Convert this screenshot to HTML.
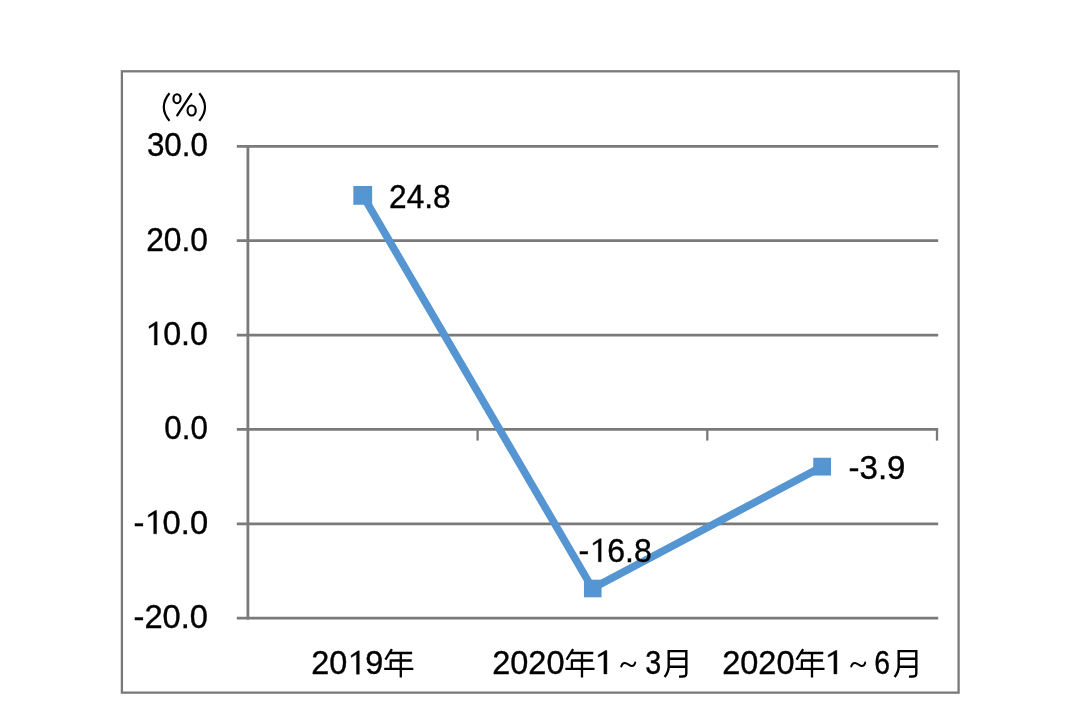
<!DOCTYPE html>
<html><head><meta charset="utf-8"><style>
html,body{margin:0;padding:0;background:#fff;width:1080px;height:705px;overflow:hidden}
svg{display:block;will-change:transform}
text{font-family:"Liberation Sans",sans-serif;font-size:35.0px;fill:#000}
</style></head><body>
<svg width="1080" height="705" viewBox="0 0 1080 705">
<rect width="1080" height="705" fill="#fff"/>
<rect x="121.9" y="71.3" width="836.7" height="621.35" fill="none" stroke="#7a7a7a" stroke-width="2.3"/>
<line x1="236.8" y1="146.30" x2="938.2" y2="146.30" stroke="#7a7a7a" stroke-width="2.7"/>
<line x1="236.8" y1="240.68" x2="938.2" y2="240.68" stroke="#7a7a7a" stroke-width="2.7"/>
<line x1="236.8" y1="335.06" x2="938.2" y2="335.06" stroke="#7a7a7a" stroke-width="2.7"/>
<line x1="236.8" y1="429.44" x2="938.2" y2="429.44" stroke="#7a7a7a" stroke-width="2.7"/>
<line x1="236.8" y1="523.82" x2="938.2" y2="523.82" stroke="#7a7a7a" stroke-width="2.7"/>
<line x1="236.8" y1="618.20" x2="938.2" y2="618.20" stroke="#7a7a7a" stroke-width="2.7"/>
<line x1="247.9" y1="145.00" x2="247.9" y2="619.50" stroke="#7a7a7a" stroke-width="2.8"/>
<line x1="477.60" y1="429.44" x2="477.60" y2="440.6" stroke="#7a7a7a" stroke-width="2.3"/>
<line x1="707.30" y1="429.44" x2="707.30" y2="440.6" stroke="#7a7a7a" stroke-width="2.3"/>
<line x1="937.00" y1="429.44" x2="937.00" y2="440.6" stroke="#7a7a7a" stroke-width="2.3"/>
<polyline points="362.75,195.38 592.45,588.30 822.15,466.65" fill="none" stroke="#5595d1" stroke-width="7.6" stroke-linejoin="round"/>
<rect x="353.35" y="185.98" width="18.8" height="18.8" fill="#5595d1"/>
<rect x="583.95" y="579.70" width="17.6" height="17.6" fill="#5595d1"/>
<rect x="813.25" y="457.75" width="17.8" height="17.8" fill="#5595d1"/>
<path d="M169.5,93.3 C165.1,98.5 163.8,102.8 163.8,107.1 C163.8,111.4 165.1,115.7 169.5,120.9 M199.3,93.3 C203.7,98.5 205.0,102.8 205.0,107.1 C205.0,111.4 203.7,115.7 199.3,120.9" fill="none" stroke="#000" stroke-width="2.2"/>
<ellipse cx="177.0" cy="98.7" rx="3.55" ry="4.5" fill="none" stroke="#000" stroke-width="2.15"/>
<ellipse cx="191.65" cy="110.5" rx="4.1" ry="5.0" fill="none" stroke="#000" stroke-width="2.15"/>
<path d="M191.3,93.8 L177.2,115.3" fill="none" stroke="#000" stroke-width="2.2" stroke-linecap="round"/>
<g transform="translate(146.90,156.28) scale(0.8973,0.9645)"><text x="0.000" y="0" stroke="#000" stroke-width="0.4">30.0</text></g>
<g transform="translate(146.20,250.66) scale(0.9078,0.9645)"><text x="0.000" y="0" stroke="#000" stroke-width="0.4">20.0</text></g>
<g transform="translate(145.19,345.04) scale(0.9229,0.9645)"><path transform="translate(0.000,0) scale(0.017090,-0.017090)" d="M760,0 L760,1409 L680,1409 L260,1150 Q235,1130 240,1080 L250,1010 L580,1200 L580,0 Z" stroke="#000" stroke-width="23.4"/><text x="19.465" y="0" stroke="#000" stroke-width="0.4">0.0</text></g>
<g transform="translate(164.37,439.42) scale(0.8972,0.9645)"><text x="0.000" y="0" stroke="#000" stroke-width="0.4">0.0</text></g>
<g transform="translate(133.55,533.80) scale(0.9343,0.9645)"><text x="0.000" y="0" stroke="#000" stroke-width="0.4">-</text><path transform="translate(11.655,0) scale(0.017090,-0.017090)" d="M760,0 L760,1409 L680,1409 L260,1150 Q235,1130 240,1080 L250,1010 L580,1200 L580,0 Z" stroke="#000" stroke-width="23.4"/><text x="31.121" y="0" stroke="#000" stroke-width="0.4">0.0</text></g>
<g transform="translate(133.55,628.18) scale(0.9343,0.9645)"><text x="0.000" y="0" stroke="#000" stroke-width="0.4">-20.0</text></g>
<g transform="translate(389.11,207.67) scale(0.9038,0.9564)"><text x="0.000" y="0" stroke="#000" stroke-width="0.4">24.8</text></g>
<g transform="translate(578.57,561.77) scale(0.9179,0.9604)"><text x="0.000" y="0" stroke="#000" stroke-width="0.4">-</text><path transform="translate(11.655,0) scale(0.017090,-0.017090)" d="M760,0 L760,1409 L680,1409 L260,1150 Q235,1130 240,1080 L250,1010 L580,1200 L580,0 Z" stroke="#000" stroke-width="23.4"/><text x="31.121" y="0" stroke="#000" stroke-width="0.4">6.8</text></g>
<g transform="translate(848.53,478.57) scale(0.9440,0.9645)"><text x="0.000" y="0" stroke="#000" stroke-width="0.4">-3.9</text></g>
<g transform="translate(311.27,674.17) scale(0.9255,0.9685)"><text x="0.000" y="0" stroke="#000" stroke-width="0.4">20</text><path transform="translate(38.931,0) scale(0.017090,-0.017090)" d="M760,0 L760,1409 L680,1409 L260,1150 Q235,1130 240,1080 L250,1010 L580,1200 L580,0 Z" stroke="#000" stroke-width="23.4"/><text x="58.396" y="0" stroke="#000" stroke-width="0.4">9</text></g>
<g transform="translate(492.27,674.17) scale(0.9273,0.9685)"><text x="0.000" y="0" stroke="#000" stroke-width="0.4">2020</text></g>
<g transform="translate(594.16,673.90) scale(0.9808,0.9718)"><path transform="translate(0.000,0) scale(0.017090,-0.017090)" d="M760,0 L760,1409 L680,1409 L260,1150 Q235,1130 240,1080 L250,1010 L580,1200 L580,0 Z" stroke="#000" stroke-width="23.4"/></g>
<g transform="translate(645.21,674.17) scale(0.8196,0.9685)"><text x="0.000" y="0" stroke="#000" stroke-width="0.4">3</text></g>
<g transform="translate(722.27,674.17) scale(0.9273,0.9685)"><text x="0.000" y="0" stroke="#000" stroke-width="0.4">2020</text></g>
<g transform="translate(824.16,673.90) scale(0.9808,0.9718)"><path transform="translate(0.000,0) scale(0.017090,-0.017090)" d="M760,0 L760,1409 L680,1409 L260,1150 Q235,1130 240,1080 L250,1010 L580,1200 L580,0 Z" stroke="#000" stroke-width="23.4"/></g>
<g transform="translate(874.36,674.17) scale(0.8112,0.9685)"><text x="0.000" y="0" stroke="#000" stroke-width="0.4">6</text></g>
<path d="M391.9,649.1 L385.4,659.7 M389.7,653.0 H412.1 M389.7,660.5 H411.7 M390.7,660.5 V668.9 M384.2,668.9 H413.3 M400.8,653.0 V677.6" fill="none" stroke="#000" stroke-width="2.3"/>
<path d="M573.0999999999999,649.1 L566.5999999999999,659.7 M570.9,653.0 H593.3 M570.9,660.5 H592.9 M571.9,660.5 V668.9 M565.4,668.9 H594.5 M582.0,653.0 V677.6" fill="none" stroke="#000" stroke-width="2.3"/>
<path d="M803.0999999999999,649.1 L796.5999999999999,659.7 M800.9,653.0 H823.3 M800.9,660.5 H822.9 M801.9,660.5 V668.9 M795.4,668.9 H824.5 M812.0,653.0 V677.6" fill="none" stroke="#000" stroke-width="2.3"/>
<path d="M668.7,650.1 V666.5 C668.7,671 667,674 664.6,677.0 M667.7,651.1 H687.5 M686.3,650.1 V673.5 C686.3,676.2 685,676.6 679,676.6 M668.7,658.8 H686.3 M668.7,666.7 H686.3" fill="none" stroke="#000" stroke-width="2.4"/>
<path d="M898.7,650.1 V666.5 C898.7,671 897.0,674 894.6,677.0 M897.7,651.1 H917.5 M916.3,650.1 V673.5 C916.3,676.2 915.0,676.6 909.0,676.6 M898.7,658.8 H916.3 M898.7,666.7 H916.3" fill="none" stroke="#000" stroke-width="2.4"/>
<path d="M621.2,666.5 C622,663.5 623.5,662.8 625,662.9 C627,663 629.5,665.9 631.5,666 C633.5,666.1 634.8,664.5 635.2,662.6" fill="none" stroke="#000" stroke-width="2.0" stroke-linecap="round"/>
<path d="M851.2,666.5 C852.0,663.5 853.5,662.8 855.0,662.9 C857.0,663 859.5,665.9 861.5,666 C863.5,666.1 864.8,664.5 865.2,662.6" fill="none" stroke="#000" stroke-width="2.0" stroke-linecap="round"/>
</svg></body></html>
